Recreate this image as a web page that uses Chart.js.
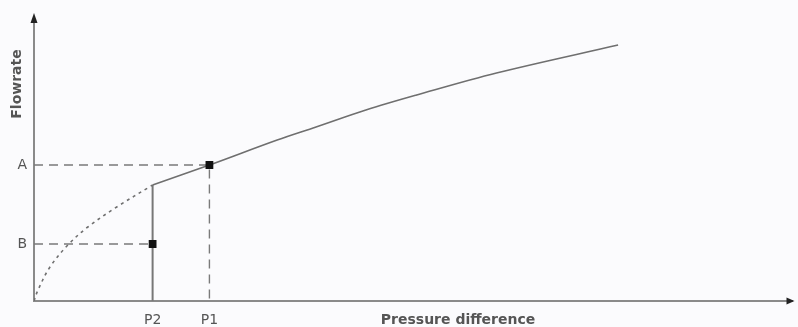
<!DOCTYPE html>
<html>
<head>
<meta charset="utf-8">
<script src="https://cdn.jsdelivr.net/npm/chart.js@4.4.1/dist/chart.umd.min.js"></script>
<style>
  html, body { margin: 0; padding: 0; background: #fbfbfd; }
  #wrap { width: 798px; height: 327px; }
</style>
</head>
<body>
<div id="wrap"><canvas id="chartFlow"></canvas></div>
<script>
// Flowrate vs pressure difference (schematic, arbitrary units)
const dottedX = [0, 4, 16, 34, 54, 83, 119];
const dottedY = [0, 11, 34, 56, 74, 94, 116];
const solidX = [119, 176, 244, 283, 333, 384, 464, 586];
const solidY = [116, 136, 161, 174, 191, 206, 228, 256];

const xTickValues = [119, 176];
const xTickLabels = ['P2', 'P1'];
const yTickValues = [136, 57];
const yTickLabels = ['A', 'B'];

const xTitle = 'Pressure difference';
const yTitle = 'Flowrate';

const P2 = xTickValues[0], P1 = xTickValues[1];
const A = yTickValues[0], B = yTickValues[1];
const kneeY = dottedY[dottedY.length - 1];

function pts(xs, ys) {
  return xs.map((x, i) => ({ x: x, y: ys[i] }));
}

const lineGray = '#6f6f6f';
const textGray = '#555';
const fontFamily = '"DejaVu Sans", Verdana, sans-serif';

// arrowheads and axis titles
const decorPlugin = {
  id: 'decor',
  afterDraw(chart) {
    const ctx = chart.ctx;
    const a = chart.chartArea;
    ctx.save();
    ctx.fillStyle = '#222';
    ctx.beginPath();
    ctx.moveTo(a.left, a.top - 5);
    ctx.lineTo(a.left - 3.5, a.top + 5);
    ctx.lineTo(a.left + 3.5, a.top + 5);
    ctx.closePath();
    ctx.fill();
    ctx.beginPath();
    ctx.moveTo(a.right + 2, a.bottom);
    ctx.lineTo(a.right - 6, a.bottom - 3.5);
    ctx.lineTo(a.right - 6, a.bottom + 3.5);
    ctx.closePath();
    ctx.fill();

    ctx.fillStyle = textGray;
    ctx.font = 'bold 14px ' + fontFamily;
    ctx.textAlign = 'center';
    ctx.textBaseline = 'middle';
    ctx.fillText(xTitle, 458, 320);
    ctx.translate(17, 84);
    ctx.rotate(-Math.PI / 2);
    ctx.fillText(yTitle, 0, 0);
    ctx.restore();
  }
};

const ctx = document.getElementById('chartFlow').getContext('2d');
new Chart(ctx, {
  type: 'scatter',
  data: {
    datasets: [
      {
        label: 'curve',
        data: pts(solidX, solidY),
        showLine: true,
        borderColor: lineGray,
        borderWidth: 1.6,
        pointRadius: 0,
        tension: 0.35,
      },
      {
        label: 'curve (low)',
        data: pts(dottedX, dottedY),
        showLine: true,
        borderColor: lineGray,
        borderWidth: 1.6,
        borderDash: [3, 4],
        pointRadius: 0,
        tension: 0.35,
      },
      {
        label: 'A guide',
        data: [{ x: 0, y: A }, { x: P1, y: A }, { x: P1, y: 0 }],
        showLine: true,
        borderColor: '#7a7a7a',
        borderWidth: 1.4,
        borderDash: [9, 6],
        pointRadius: 0,
        tension: 0,
      },
      {
        label: 'B guide',
        data: [{ x: 0, y: B }, { x: P2, y: B }],
        showLine: true,
        borderColor: '#7a7a7a',
        borderWidth: 1.4,
        borderDash: [9, 6],
        pointRadius: 0,
        tension: 0,
      },
      {
        label: 'P2 line',
        data: [{ x: P2, y: kneeY }, { x: P2, y: 0 }],
        showLine: true,
        borderColor: '#777',
        borderWidth: 2,
        pointRadius: 0,
        tension: 0,
      },
      {
        label: 'points',
        order: -1,
        data: [{ x: P1, y: A }, { x: P2, y: B }],
        showLine: false,
        pointStyle: 'rect',
        pointRadius: 5.5,
        backgroundColor: '#111',
        borderColor: '#111',
        borderWidth: 0,
      },
    ],
  },
  options: {
    responsive: true,
    maintainAspectRatio: false,
    animation: false,
    layout: { padding: { top: 18, right: 3, left: 0, bottom: 0 } },
    plugins: {
      legend: { display: false },
      tooltip: { enabled: false },
    },
    scales: {
      x: {
        type: 'linear',
        min: 0,
        max: 761,
        afterBuildTicks(scale) {
          scale.ticks = xTickValues.map(v => ({ value: v }));
        },
        afterFit(scale) { scale.height = 26; },
        grid: { display: false, drawTicks: false },
        border: { display: true, color: '#8a8a8a', width: 2 },
        ticks: {
          color: textGray,
          font: { size: 14, family: fontFamily },
          padding: 11,
          maxRotation: 0,
          autoSkip: false,
          callback: (v) => xTickLabels[xTickValues.indexOf(v)] || '',
        },
      },
      y: {
        type: 'linear',
        min: 0,
        max: 283,
        afterBuildTicks(scale) {
          scale.ticks = yTickValues.map(v => ({ value: v }));
        },
        afterFit(scale) { scale.width = 34; },
        grid: { display: false, drawTicks: false },
        border: { display: true, color: '#8a8a8a', width: 2 },
        ticks: {
          color: textGray,
          font: { size: 14, family: fontFamily },
          padding: 7,
          autoSkip: false,
          callback: (v) => yTickLabels[yTickValues.indexOf(v)] || '',
        },
      },
    },
  },
  plugins: [decorPlugin],
});
</script>
</body>
</html>
